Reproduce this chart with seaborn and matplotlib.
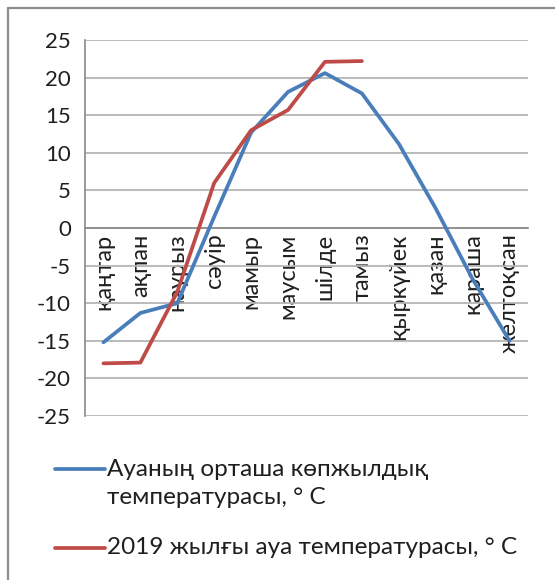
import numpy as np
import pandas as pd
import matplotlib
matplotlib.use("Agg")
import matplotlib.pyplot as plt
from matplotlib.lines import Line2D
import seaborn as sns

months = ["қаңтар", "ақпан", "наурыз", "сәуір", "мамыр", "маусым",
          "шілде", "тамыз", "қыркүйек", "қазан", "қараша", "желтоқсан"]
avg_temp = [-15.2, -11.3, -10.0, 1.5, 12.7, 18.1, 20.6, 17.9, 11.2, 2.6, -6.8, -15.0]
temp_2019 = [-18.0, -17.9, -8.5, 6.0, 13.0, 15.7, 22.1, 22.2]
yticks = [-25, -20, -15, -10, -5, 0, 5, 10, 15, 20, 25]
label_avg = "Ауаның орташа көпжылдық\nтемпературасы, ° С"
label_2019 = "2019 жылғы ауа температурасы, ° С"

BLUE = "#4a7ebb"
RED = "#be4b48"
GRID = "#b5b5b5"
AX = "#8a8a8a"
TXT = "#1f1f1f"

sns.set_style("white")
plt.rcParams["font.family"] = ["Lato", "DejaVu Sans"]

W, H = 555, 580
fig = plt.figure(figsize=(W / 100, H / 100), dpi=100)
ax = fig.add_axes([85 / W, 1 - 416 / H, (528 - 85) / W, (416 - 40) / H])

df_avg = pd.DataFrame({"pos": np.arange(len(months)), "t": avg_temp})
df_19 = pd.DataFrame({"pos": np.arange(len(temp_2019)), "t": temp_2019})
sns.lineplot(data=df_avg, x="pos", y="t", color=BLUE, lw=2.7, ax=ax, zorder=3)
sns.lineplot(data=df_19, x="pos", y="t", color=RED, lw=2.7, ax=ax, zorder=4)

ax.set_xlim(-0.5, len(months) - 0.5)
ax.set_ylim(-25, 25)
ax.set_yticks(yticks)
ax.set_yticklabels([str(v) for v in yticks])
ax.yaxis.grid(True, color=GRID, lw=1.3)
ax.set_axisbelow(True)
ax.set_xlabel("")
ax.set_ylabel("")

ax.set_xticks(np.arange(len(months)))
ax.set_xticks(np.arange(len(months) + 1) - 0.5, minor=True)
ax.set_xticklabels(months)
ax.tick_params(axis="x", which="major", length=0, pad=4, labelrotation=90,
               labelsize=17, labelcolor=TXT)
ax.tick_params(axis="x", which="minor", length=5, color=AX, width=1)
ax.tick_params(axis="y", which="major", length=4, color=AX, width=1, pad=6,
               labelsize=16, labelcolor=TXT)
for t in ax.get_xticklabels():
    t.set_va("top")
    t.set_ha("center")
    t.set_fontsize(17)

for s in ["top", "right"]:
    ax.spines[s].set_visible(False)
ax.spines["bottom"].set_position(("data", 0))
ax.spines["bottom"].set_color(AX)
ax.spines["left"].set_color(AX)
ax.spines["left"].set_linewidth(1.2)
ax.spines["bottom"].set_linewidth(1.2)

# outer chart frame
fig.add_artist(Line2D([8 / W, 8 / W], [0, 1 - 8 / H], color="#8c8c8c", lw=1.6))
fig.add_artist(Line2D([8 / W, 1], [1 - 8 / H, 1 - 8 / H], color="#8c8c8c", lw=1.6))

# legend
def fy(y):
    return 1 - y / H

LFS = 17.5
fig.add_artist(Line2D([55 / W, 105 / W], [fy(469)] * 2, color=BLUE, lw=2.7))
l1, l2 = label_avg.split("\n")
fig.text(107 / W, fy(469), l1, va="center", ha="left", fontsize=LFS, color=TXT)
fig.text(107 / W, fy(497), l2, va="center", ha="left", fontsize=LFS, color=TXT)
fig.add_artist(Line2D([55 / W, 105 / W], [fy(548)] * 2, color=RED, lw=2.7))
fig.text(107 / W, fy(548), label_2019, va="center", ha="left", fontsize=LFS, color=TXT)

fig.savefig("out.png", dpi=100)
